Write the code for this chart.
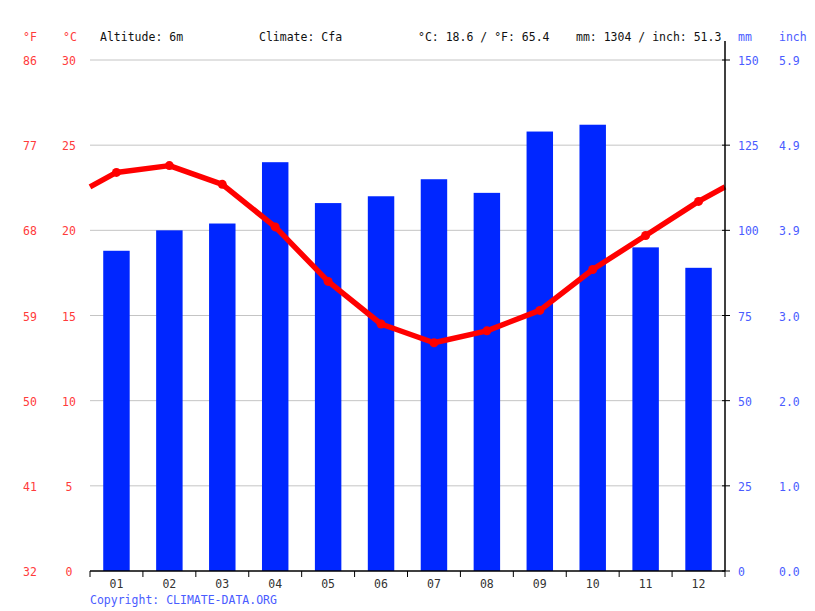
<!DOCTYPE html>
<html>
<head>
<meta charset="utf-8">
<script src="https://cdn.jsdelivr.net/npm/d3@7"></script>
<style>
  body { margin: 0; background: #fff; }
  svg text { font-family: "DejaVu Sans Mono", monospace; font-size: 11.5px; }
</style>
</head>
<body>
<div id="chart"></div>
<script>
// Monthly values
const months = ["01", "02", "03", "04", "05", "06", "07", "08", "09", "10", "11", "12"];
const tempC = [23.4, 23.8, 22.7, 20.2, 17.0, 14.5, 13.4, 14.1, 15.3, 17.7, 19.7, 21.7];
const precipMm = [94, 100, 102, 120, 108, 110, 115, 111, 129, 131, 95, 89];

// Axis ticks
const celsiusTicks = [0, 5, 10, 15, 20, 25, 30];
const fahrenheitLabels = ["32", "41", "50", "59", "68", "77", "86"];
const mmTicks = [0, 25, 50, 75, 100, 125, 150];
const inchLabels = ["0.0", "1.0", "2.0", "3.0", "3.9", "4.9", "5.9"];

const headerTexts = [
  { x: 100, text: "Altitude: 6m" },
  { x: 259, text: "Climate: Cfa" },
  { x: 418, text: "°C: 18.6 / °F: 65.4" },
  { x: 576, text: "mm: 1304 / inch: 51.3" },
];

function createClimateChart(width, height) {
  const marginTop = 60;
  const marginRight = 90;
  const marginBottom = 40;
  const marginLeft = 90;

  const red = "#ff3b3b";
  const blue = "#4a5cff";

  const svg = d3
    .create("svg")
    .attr("width", width)
    .attr("height", height)
    .attr("viewBox", [0, 0, width, height]);

  const x = d3
    .scaleBand()
    .domain(months)
    .range([marginLeft, width - marginRight])
    .paddingInner(0)
    .paddingOuter(0);

  const yT = d3
    .scaleLinear()
    .domain([0, 30])
    .range([height - marginBottom, marginTop]);

  const yP = d3
    .scaleLinear()
    .domain([0, 150])
    .range([height - marginBottom, marginTop]);

  const bottom = height - marginBottom;
  const right = width - marginRight;

  // Grid lines
  svg
    .append("g")
    .selectAll("line")
    .data(celsiusTicks.filter((d) => d > 0))
    .join("line")
    .attr("x1", marginLeft)
    .attr("x2", right)
    .attr("y1", (d) => yT(d))
    .attr("y2", (d) => yT(d))
    .attr("stroke", "#c4c4c4")
    .attr("stroke-width", 1);

  // Precipitation bars
  const barW = x.bandwidth() * 0.5;
  svg
    .append("g")
    .selectAll("rect")
    .data(precipMm)
    .join("rect")
    .attr("x", (d, i) => x(months[i]) + (x.bandwidth() - barW) / 2)
    .attr("y", (d) => yP(d))
    .attr("width", barW)
    .attr("height", (d) => bottom - yP(d))
    .attr("fill", "#0026ff");

  // Temperature line, wrapping Dec -> Jan at both edges
  const edge = (tempC[0] + tempC[11]) / 2;
  const pts = [{ x: marginLeft, v: edge }]
    .concat(tempC.map((v, i) => ({ x: x(months[i]) + x.bandwidth() / 2, v })))
    .concat([{ x: right, v: edge }]);

  const line = d3
    .line()
    .x((d) => d.x)
    .y((d) => yT(d.v));

  svg
    .append("path")
    .datum(pts)
    .attr("fill", "none")
    .attr("stroke", "#ff0000")
    .attr("stroke-width", 5.5)
    .attr("stroke-linejoin", "round")
    .attr("d", line);

  svg
    .append("g")
    .selectAll("circle")
    .data(tempC)
    .join("circle")
    .attr("cx", (d, i) => x(months[i]) + x.bandwidth() / 2)
    .attr("cy", (d) => yT(d))
    .attr("r", 4.5)
    .attr("fill", "#ff0000");

  // Bottom axis
  const xAxis = svg.append("g").attr("transform", `translate(0,${bottom})`);
  xAxis
    .append("line")
    .attr("x1", marginLeft)
    .attr("x2", right)
    .attr("stroke", "#000")
    .attr("stroke-width", 1.5);
  xAxis
    .selectAll(".tick-line")
    .data(months.concat(["end"]))
    .join("line")
    .attr("x1", (d, i) => (i < 12 ? x(d) : right))
    .attr("x2", (d, i) => (i < 12 ? x(d) : right))
    .attr("y1", 0)
    .attr("y2", 6)
    .attr("stroke", "#000");
  xAxis
    .selectAll("text")
    .data(months)
    .join("text")
    .attr("x", (d) => x(d) + x.bandwidth() / 2)
    .attr("y", 17)
    .attr("text-anchor", "middle")
    .attr("fill", "#333")
    .text((d) => d);

  // Right axis
  const rAxis = svg.append("g");
  rAxis
    .append("line")
    .attr("x1", right)
    .attr("x2", right)
    .attr("y1", 41)
    .attr("y2", bottom)
    .attr("stroke", "#000")
    .attr("stroke-width", 1.5);
  rAxis
    .selectAll(".tick")
    .data(mmTicks)
    .join("line")
    .attr("x1", right - 3)
    .attr("x2", right + 5)
    .attr("y1", (d) => yP(d))
    .attr("y2", (d) => yP(d))
    .attr("stroke", "#000");
  rAxis
    .selectAll(".mm")
    .data(mmTicks)
    .join("text")
    .attr("x", 738)
    .attr("y", (d) => yP(d) + 5)
    .attr("fill", blue)
    .text((d) => d);
  rAxis
    .selectAll(".inch")
    .data(mmTicks)
    .join("text")
    .attr("x", 779)
    .attr("y", (d) => yP(d) + 5)
    .attr("fill", blue)
    .text((d, i) => inchLabels[i]);

  // Left labels
  svg
    .append("g")
    .selectAll("text")
    .data(celsiusTicks)
    .join("text")
    .attr("x", 69)
    .attr("y", (d) => yT(d) + 5)
    .attr("text-anchor", "middle")
    .attr("fill", red)
    .text((d) => d);
  svg
    .append("g")
    .selectAll("text")
    .data(celsiusTicks)
    .join("text")
    .attr("x", 30)
    .attr("y", (d) => yT(d) + 5)
    .attr("text-anchor", "middle")
    .attr("fill", red)
    .text((d, i) => fahrenheitLabels[i]);

  // Header
  svg.append("text").attr("x", 30).attr("y", 41).attr("text-anchor", "middle").attr("fill", red).text("°F");
  svg.append("text").attr("x", 70).attr("y", 41).attr("text-anchor", "middle").attr("fill", red).text("°C");
  svg.append("text").attr("x", 738).attr("y", 41).attr("fill", blue).text("mm");
  svg.append("text").attr("x", 779).attr("y", 41).attr("fill", blue).text("inch");
  svg
    .append("g")
    .selectAll("text")
    .data(headerTexts)
    .join("text")
    .attr("x", (d) => d.x)
    .attr("y", 41)
    .attr("fill", "#111")
    .text((d) => d.text);

  // Copyright
  svg
    .append("text")
    .attr("x", 90)
    .attr("y", 604)
    .attr("fill", blue)
    .text("Copyright: CLIMATE-DATA.ORG");

  return svg.node();
}

document.getElementById("chart").appendChild(createClimateChart(815, 611));
</script>
</body>
</html>
